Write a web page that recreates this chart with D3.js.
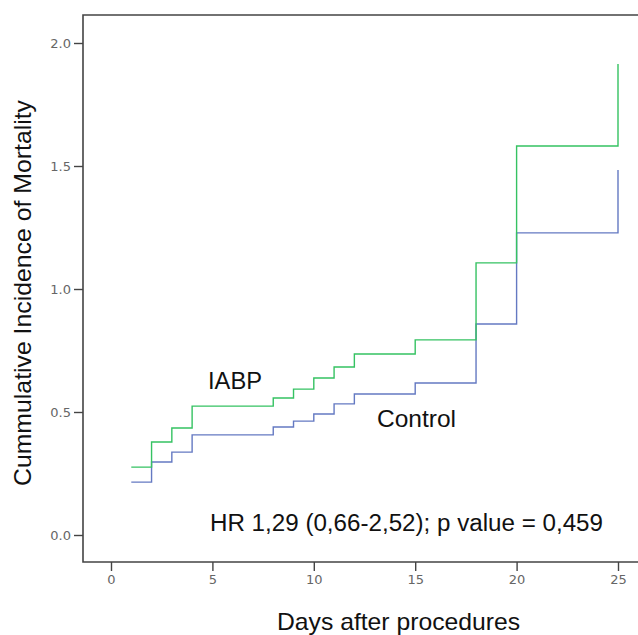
<!DOCTYPE html>
<html><head><meta charset="utf-8">
<script src="https://cdn.jsdelivr.net/npm/d3@7/dist/d3.min.js"></script>
<style>body{margin:0;background:#fff}svg{display:block}</style>
</head><body><svg id="c" width="638" height="635"></svg>
<script>
const xTicks = [0, 5, 10, 15, 20, 25];
const yTicks = [0.0, 0.5, 1.0, 1.5, 2.0];
const iabpDays = [1, 2, 3, 4, 8, 9, 10, 11, 12, 15, 18, 20, 25];
const iabpValues = [0.276, 0.378, 0.435, 0.524, 0.557, 0.593, 0.638, 0.683, 0.736, 0.793, 1.106, 1.581, 1.915];
const controlDays = [1, 2, 3, 4, 8, 9, 10, 11, 12, 15, 18, 20, 25];
const controlValues = [0.215, 0.297, 0.337, 0.407, 0.439, 0.463, 0.492, 0.533, 0.573, 0.618, 0.858, 1.228, 1.484];

const svg = d3.select("#c");
const x = d3.scaleLinear().domain([0, 25]).range([111, 618]);
const y = d3.scaleLinear().domain([0, 2]).range([535, 43]);
const frameL = 83, frameT = 15, frameB = 562, frameR = 640;

// frame
svg.append("path")
  .attr("d", `M${frameR},${frameT}H${frameL}V${frameB}H${frameR}`)
  .attr("fill", "none").attr("stroke", "#444").attr("stroke-width", 1.6);

// y ticks
const gy = svg.append("g").attr("transform", `translate(${frameL},0)`)
  .call(d3.axisLeft(y).tickValues(yTicks).tickFormat(d3.format(".1f")).tickSize(9).tickPadding(3));
gy.select(".domain").remove();
gy.selectAll("line").attr("stroke", "#444").attr("stroke-width", 1.4);
gy.selectAll("text").attr("font-family", "DejaVu Sans, sans-serif").attr("font-size", 13).attr("fill", "#666");

// x ticks
const gx = svg.append("g").attr("transform", `translate(0,${frameB})`)
  .call(d3.axisBottom(x).tickValues(xTicks).tickFormat(d3.format("d")).tickSize(9).tickPadding(4));
gx.select(".domain").remove();
gx.selectAll("line").attr("stroke", "#444").attr("stroke-width", 1.4);
gx.selectAll("text").attr("font-family", "DejaVu Sans, sans-serif").attr("font-size", 13).attr("fill", "#666");

function stepPath(days, vals) {
  const pts = days.map((d, i) => [x(d), y(vals[i])]);
  let s = `M${pts[0][0]},${pts[0][1]}`;
  for (let i = 1; i < pts.length; i++) {
    s += `H${pts[i][0]}V${pts[i][1]}`;
  }
  return s;
}

svg.append("path").attr("d", stepPath(controlDays, controlValues))
  .attr("fill", "none").attr("stroke", "#6479c2").attr("stroke-width", 1.4);
svg.append("path").attr("d", stepPath(iabpDays, iabpValues))
  .attr("fill", "none").attr("stroke", "#35c262").attr("stroke-width", 1.4);

const F = "Liberation Sans, Arial, sans-serif";
function label(t, xx, yy, size, len) {
  return svg.append("text").attr("x", xx).attr("y", yy).attr("font-family", F).attr("font-size", size)
    .attr("fill", "#111").attr("textLength", len).attr("lengthAdjust", "spacingAndGlyphs").text(t);
}
label("IABP", 208, 389, 23, 54);
label("Control", 377, 427, 24, 79);
label("HR 1,29 (0,66-2,52); p value = 0,459", 210, 531, 23, 393);
label("Days after procedures", 277, 630, 24, 243);
svg.append("text").attr("transform", "translate(31,486) rotate(-90)").attr("font-family", F).attr("font-size", 24)
  .attr("fill", "#111").attr("textLength", 386).attr("lengthAdjust", "spacingAndGlyphs")
  .text("Cummulative Incidence of Mortality");
</script></body></html>
